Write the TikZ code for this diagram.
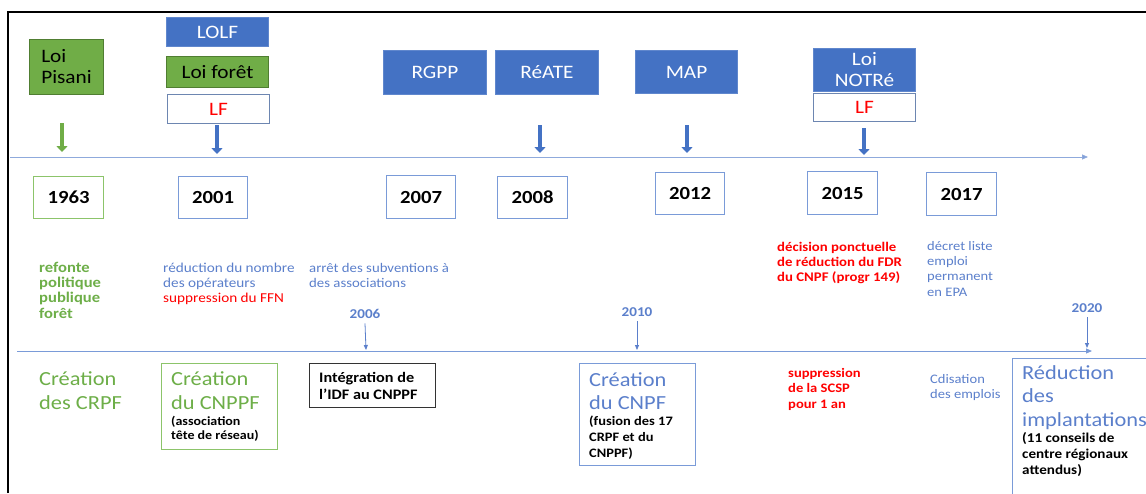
\documentclass[tikz,border=0pt]{standalone}
\usepackage{fontspec}
\setmainfont{Carlito}[FakeStretch=1.12]
\usetikzlibrary{arrows.meta}

\definecolor{gfill}{HTML}{70AD47}
\definecolor{gline}{HTML}{507E32}
\definecolor{bfill}{HTML}{4472C4}
\definecolor{bline}{HTML}{2F528F}
\definecolor{btxt}{HTML}{5B7FCB}
\definecolor{gtxt}{HTML}{6DAE48}
\definecolor{axisc}{HTML}{8FAADC}
\definecolor{yline}{HTML}{7A9BD8}
\definecolor{ygline}{HTML}{8CC46A}

\newcommand\fsz[2]{\fontsize{#1}{#2}\selectfont}

\tikzset{
  topbox/.style={anchor=north west, inner sep=0pt, line width=1pt, font=\fsz{19}{21}},
  gbox/.style={topbox, draw=gline, fill=gfill, text=black},
  bbox/.style={topbox, draw=bfill!85!white, fill=bfill, text=white},
  wbox/.style={topbox, draw=bline!70!white, fill=white, text=red},
  yearbox/.style={anchor=north west, inner sep=0pt, line width=1.2pt, draw=yline,
    fill=white, font=\bfseries\fsz{18.5}{20}},
  framebox/.style={anchor=north west, inner sep=0pt, line width=1.2pt},
  % multi-line notes are placed by the baseline of their last line
  note/.style={anchor=base west, inner sep=0pt, align=left},
  axisline/.style={line width=1pt, -{Triangle[length=6pt,width=5pt]}},
  blockarrow/.style={line width=4.5pt, -{Triangle[length=6pt,width=11pt]}},
  tickarrow/.style={line width=0.8pt, draw=btxt, -{Triangle[length=5pt,width=4pt]}},
  ticklabel/.style={anchor=base, inner sep=0pt, text=btxt, font=\bfseries\fsz{13.5}{15}},
}

\begin{document}
\begin{tikzpicture}[x=1pt,y=-1pt]
\useasboundingbox (0,0) rectangle (1146,493);

% frame
\draw[line width=2pt] (8,493) -- (8,12) -- (1146,12);

% the two time axes
\coordinate (axAs) at (10,157);   \coordinate (axAe) at (1088,157);
\coordinate (axBs) at (17,351);   \coordinate (axBe) at (1092,351);
\draw[axisline, draw=axisc, -{Triangle[length=6pt,width=5pt,fill=yline]}] (axAs) -- (axAe);
\draw[axisline, draw=yline] (axBs) -- (axBe);

% laws above the upper axis
\node[gbox, minimum width=74pt, minimum height=55pt, align=left] (pisani) at (29,39) {Loi\\Pisani};
\node[bbox, minimum width=102pt, minimum height=29pt] (lolf) at (166,17) {LOLF};
\node[gbox, minimum width=102pt, minimum height=31pt] (foret) at (166,56) {Loi forêt};
\node[wbox, minimum width=102pt, minimum height=29pt] (lfa) at (167,94) {LF};
\node[bbox, minimum width=103pt, minimum height=44pt] (rgpp) at (383,50) {RGPP};
\node[bbox, minimum width=103pt, minimum height=44pt] (reate) at (495,50) {RéATE};
\node[bbox, minimum width=102pt, minimum height=43pt] (map) at (635,50) {MAP};
\node[bbox, minimum width=102pt, minimum height=43pt, align=center] (notre) at (813,48) {Loi\\NOTRé};
\node[wbox, minimum width=102pt, minimum height=28pt] (lfb) at (813,93) {LF};

% block arrows down to the upper axis
\coordinate (pA1) at (62,123);  \coordinate (pB1) at (62,152);
\coordinate (pA2) at (217,125); \coordinate (pB2) at (217,154);
\coordinate (pA3) at (540,125); \coordinate (pB3) at (540,153);
\coordinate (pA4) at (687,125); \coordinate (pB4) at (687,153);
\coordinate (pA5) at (864,128); \coordinate (pB5) at (864,155);
\draw[blockarrow, draw=gfill, -{Triangle[length=6pt,width=11pt,fill=gfill]}] (pA1) -- (pB1);
\foreach \i in {2,3,4,5} \draw[blockarrow, draw=bfill] (pA\i) -- (pB\i);

% years
\node[yearbox, draw=ygline, minimum width=70pt, minimum height=42pt] (y1963) at (33,176) {1963};
\node[yearbox, minimum width=69pt, minimum height=42pt] (y2001) at (178,176) {2001};
\node[yearbox, minimum width=69pt, minimum height=43pt] (y2007) at (386,175) {2007};
\node[yearbox, minimum width=70pt, minimum height=42pt] (y2008) at (497,176) {2008};
\node[yearbox, minimum width=69pt, minimum height=42pt] (y2012) at (655,172) {2012};
\node[yearbox, minimum width=70pt, minimum height=43pt] (y2015) at (807,171) {2015};
\node[yearbox, minimum width=70pt, minimum height=43pt] (y2017) at (926,172) {2017};

% notes under the years
\node[note, text=gtxt, font=\bfseries\fsz{14.8}{15.3}] (n1963) at (39,318)
  {refonte\\politique\\publique\\forêt};
\node[note, text=btxt, font=\fsz{13.6}{15.3}] (n2001) at (163,302.6)
  {réduction du nombre\\des opérateurs\\\textcolor{red}{suppression du FFN}};
\node[note, text=btxt, font=\fsz{13.2}{15.3}] (n2007) at (309,287.3)
  {arrêt des subventions à\\des associations};
\node[note, text=red, font=\bfseries\fsz{13.2}{15.3}] (n2015) at (777,281.6)
  {décision ponctuelle\\de réduction du FDR\\du CNPF (progr 149)};
\node[note, text=btxt, font=\fsz{13}{15.3}] (n2017) at (927,296)
  {décret liste\\emploi\\permanent\\en EPA};

% intermediate dates on the lower axis
\node[ticklabel] (l2006) at (365,318) {2006};
\node[ticklabel] (l2010) at (637,316) {2010};
\node[ticklabel] (l2020) at (1087,312) {2020};
\coordinate (c2006) at (366,350);
\coordinate (c2010) at (637,350);
\coordinate (c2020) at (1087,348);
\draw[tickarrow] ([yshift=-5pt]l2006.south) -- (c2006);
\draw[tickarrow] ([yshift=-5pt]l2010.south) -- (c2010);
\draw[tickarrow] ([yshift=-5pt]l2020.south) -- (c2020);

% structures below the lower axis
\node[note, text=gtxt, font=\fsz{20}{24}] (crpf) at (39,409) {Création\\des CRPF};

\node[framebox, draw=ygline, minimum width=116pt, minimum height=86pt] (cnppf) at (161,363) {};
\node[note, text=gtxt, font=\fsz{20}{24}] (cnppft) at (171,409) {Création\\du CNPPF};
\node[note, font=\bfseries\fsz{12.5}{14}] (cnppfs) at (171,439) {(association\\tête de réseau)};

\node[framebox, draw=black!80, minimum width=126pt, minimum height=44pt] (idf) at (309,363) {};
\node[note, font=\bfseries\fsz{14.5}{17}] (idft) at (319,399) {Intégration de\\l’IDF au CNPPF};

\node[framebox, draw=yline, minimum width=116pt, minimum height=102pt] (cnpf) at (579,363) {};
\node[note, text=btxt, font=\fsz{20}{23}] (cnpft) at (589,409) {Création\\du CNPF};
\node[note, font=\bfseries\fsz{12.9}{16}] (cnpfs) at (589,457) {(fusion des 17\\CRPF et du\\CNPPF)};

\node[note, text=red, font=\bfseries\fsz{13}{15.5}] (scsp) at (788,408) {suppression\\de la SCSP\\pour 1 an};
\node[note, text=btxt, font=\fsz{13}{15}] (cdi) at (930,398) {Cdisation\\des emplois};

\node[framebox, draw=yline, minimum width=150pt, minimum height=150pt] (impl) at (1012,358) {};
\node[note, text=btxt, font=\fsz{20}{23.5}] (implt) at (1022,426) {Réduction\\des\\implantations};
\node[note, font=\bfseries\fsz{13.5}{16}] (impls) at (1022,474) {(11 conseils de\\centre régionaux\\attendus)};
\end{tikzpicture}
\end{document}
